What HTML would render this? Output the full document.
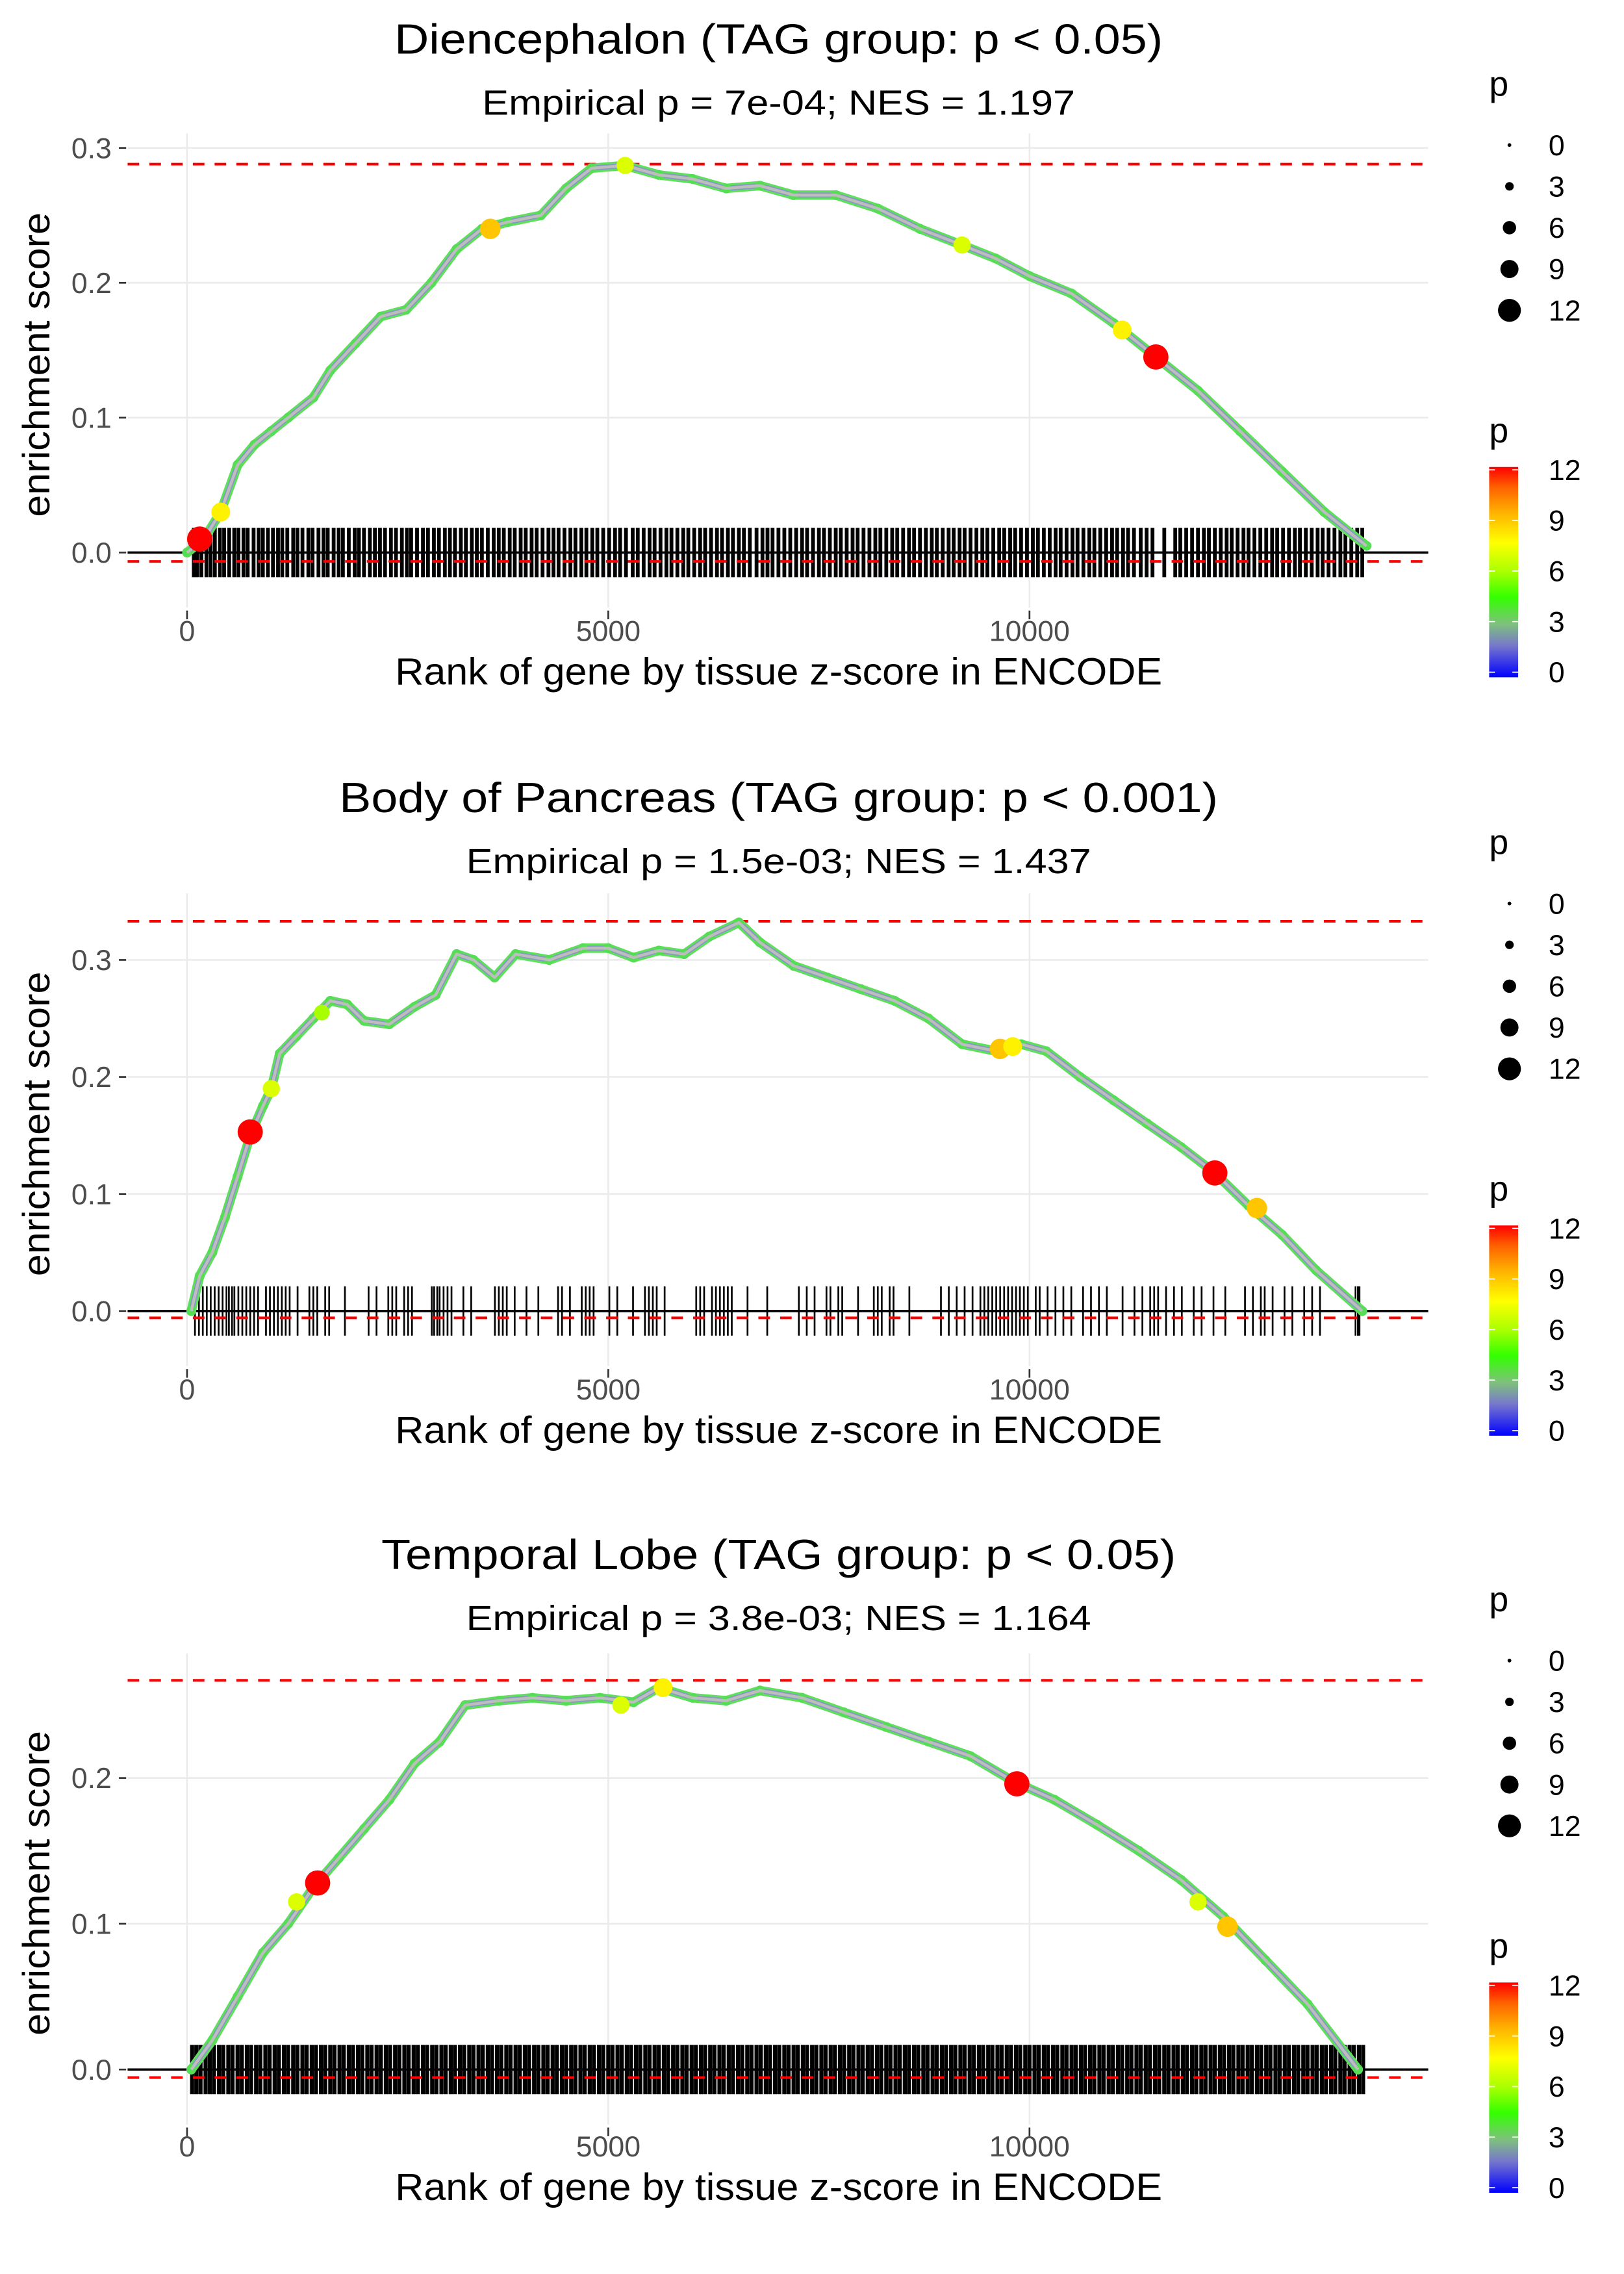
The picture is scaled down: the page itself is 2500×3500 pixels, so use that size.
<!DOCTYPE html>
<html><head><meta charset="utf-8"><title>Enrichment plots</title>
<style>html,body{margin:0;padding:0;background:#fff}svg{display:block}text{font-family:"Liberation Sans",Arial,sans-serif}</style>
</head><body>
<svg id="chart" width="2500" height="3500" viewBox="0 0 1120 1568" preserveAspectRatio="none" xmlns="http://www.w3.org/2000/svg">
<defs>
<linearGradient id="pgrad" x1="0" y1="1" x2="0" y2="0">
<stop offset="0" stop-color="#0000ff"/><stop offset="0.15" stop-color="#7777cc"/><stop offset="0.25" stop-color="#7fbf7f"/><stop offset="0.38" stop-color="#33ff00"/><stop offset="0.5" stop-color="#a8ff00"/><stop offset="0.64" stop-color="#ffff00"/><stop offset="0.78" stop-color="#ffb400"/><stop offset="0.9" stop-color="#ff6400"/><stop offset="1" stop-color="#ff0000"/>
</linearGradient>
</defs>
</svg>
<script>
// ---- data ----
const panelTitles = ["Diencephalon (TAG group: p < 0.05)","Body of Pancreas (TAG group: p < 0.001)","Temporal Lobe (TAG group: p < 0.05)"];
const panelSubtitles = ["Empirical p = 7e-04; NES = 1.197","Empirical p = 1.5e-03; NES = 1.437","Empirical p = 3.8e-03; NES = 1.164"];
const xTicks = [0,5000,10000];
const xTickLabels = ["0","5000","10000"];
const yTicks1 = [0,0.1,0.2,0.3];
const yTicks2 = [0,0.1,0.2,0.3];
const yTicks3 = [0,0.1,0.2];
const maxES = [0.288,0.333,0.267];
const minES = [-0.005,-0.004,-0.004];
const rank1 = [0,200,400,600,800,1000,1200,1500,1700,2000,2300,2600,2900,3200,3500,3800,4200,4500,4800,5200,5600,6000,6400,6800,7200,7700,8200,8700,9200,9600,10000,10500,11000,11500,12000,12500,13000,13500,14000];
const es1 = [0,0.01,0.03,0.065,0.08,0.09,0.1,0.115,0.135,0.155,0.175,0.18,0.2,0.225,0.24,0.245,0.25,0.27,0.285,0.287,0.28,0.277,0.27,0.272,0.265,0.265,0.255,0.24,0.228,0.218,0.205,0.192,0.17,0.145,0.12,0.09,0.06,0.03,0.005];
const rank2 = [50,150,300,450,600,750,900,1000,1100,1300,1500,1700,1900,2100,2400,2700,2950,3200,3400,3650,3900,4300,4700,5000,5300,5600,5900,6200,6550,6800,7200,7600,8000,8400,8800,9200,9600,9900,10200,10600,11000,11400,11800,12200,12600,13000,13400,13950];
const es2 = [0,0.03,0.05,0.08,0.115,0.15,0.175,0.19,0.22,0.235,0.25,0.265,0.262,0.248,0.245,0.26,0.27,0.305,0.3,0.285,0.305,0.3,0.31,0.31,0.302,0.308,0.305,0.32,0.332,0.315,0.295,0.285,0.275,0.265,0.25,0.228,0.222,0.228,0.222,0.2,0.18,0.16,0.14,0.118,0.09,0.065,0.035,0.0];
const rank3 = [50,300,600,900,1200,1500,1800,2100,2400,2700,3000,3300,3700,4100,4500,4900,5300,5600,6000,6400,6800,7300,7800,8300,8800,9300,9800,10300,10800,11300,11800,12300,12800,13300,13900];
const es3 = [0,0.02,0.05,0.08,0.1,0.125,0.145,0.165,0.185,0.21,0.225,0.25,0.253,0.255,0.253,0.255,0.252,0.262,0.255,0.253,0.26,0.255,0.245,0.235,0.225,0.215,0.198,0.185,0.168,0.15,0.13,0.105,0.075,0.045,0.0];
const hiRank1 = [150,400,3600,5200,9200,11100,11500];
const hiES1 = [0.01,0.03,0.24,0.287,0.228,0.165,0.145];
const hiP1 = [12,8,9,7,7,8,12];
const hiRank2 = [750,1000,1600,9650,9800,12200,12700];
const hiES2 = [0.153,0.19,0.255,0.224,0.226,0.118,0.088];
const hiP2 = [12,7,6,9,8,12,9];
const hiRank3 = [1300,1550,5150,5650,9850,12000,12350];
const hiES3 = [0.115,0.128,0.25,0.262,0.196,0.115,0.098];
const hiP3 = [7,12,7,8,12,7,9];
const hits1 = [80,120,170,230,280,330,390,440,500,560,610,670,720,790,850,900,960,1020,1080,1130,1190,1260,1310,1370,1440,1490,1560,1620,1670,1740,1800,1850,1920,1990,2040,2100,2170,2230,2290,2350,2420,2480,2550,2610,2660,2730,2800,2860,2930,2990,3060,3120,3180,3250,3310,3380,3440,3500,3570,3640,3700,3760,3830,3890,3960,4020,4090,4150,4220,4290,4350,4410,4480,4550,4610,4680,4740,4810,4870,4940,5010,5080,5140,5210,5290,5350,5420,5490,5550,5620,5690,5750,5820,5890,5950,6020,6090,6150,6220,6290,6350,6420,6480,6550,6610,6680,6760,6830,6890,6950,7020,7090,7160,7230,7300,7360,7430,7500,7560,7630,7700,7760,7830,7900,7960,8030,8100,8170,8230,8300,8370,8430,8500,8570,8630,8700,8770,8840,8900,8970,9040,9100,9170,9230,9300,9370,9440,9500,9570,9640,9700,9770,9830,9900,9970,10040,10100,10170,10240,10310,10370,10440,10510,10570,10640,10710,10770,10840,10910,10980,11040,11110,11170,11240,11320,11390,11460,11600,11730,11790,11860,11930,12000,12070,12130,12200,12270,12340,12400,12470,12540,12600,12670,12740,12810,12880,12940,13010,13080,13150,13210,13280,13350,13420,13480,13550,13620,13690,13750,13820,13890,13950];
const hits2 = [94,141,187,234,281,328,375,422,468,497,534,562,609,656,703,750,796,843,937,984,1031,1078,1125,1171,1218,1312,1452,1499,1546,1640,1687,1874,2155,2249,2389,2436,2483,2577,2624,2670,2905,2933,2970,2998,3045,3092,3139,3280,3373,3654,3701,3748,3795,3889,4029,4170,4404,4451,4545,4685,4732,4779,4826,5013,5107,5294,5435,5482,5529,5575,5669,6044,6091,6138,6231,6278,6325,6372,6419,6466,6653,6887,7262,7356,7449,7590,7637,7731,7777,7965,8152,8199,8246,8340,8386,8574,8949,9042,9136,9230,9324,9417,9464,9511,9558,9605,9652,9699,9746,9793,9840,9886,9933,9980,10074,10121,10215,10308,10402,10496,10636,10730,10824,10918,11105,11246,11340,11433,11480,11527,11621,11715,11808,11949,12043,12184,12324,12558,12652,12746,12792,12886,13027,13120,13261,13355,13448,13870,13898,13917];
const hits3 = [60,110,160,220,270,320,380,430,490,540,600,650,710,760,820,870,930,980,1040,1090,1150,1200,1260,1310,1370,1420,1480,1530,1590,1640,1700,1750,1810,1860,1920,1970,2030,2080,2140,2190,2250,2300,2360,2410,2470,2520,2580,2630,2690,2740,2800,2850,2910,2960,3020,3070,3130,3180,3240,3290,3350,3400,3460,3510,3570,3620,3680,3730,3790,3840,3900,3950,4010,4060,4120,4170,4230,4280,4340,4390,4450,4500,4560,4610,4670,4720,4780,4830,4890,4940,5000,5050,5110,5160,5220,5270,5330,5380,5440,5490,5550,5600,5660,5710,5770,5820,5880,5930,5990,6040,6100,6150,6210,6260,6320,6370,6430,6480,6540,6590,6650,6700,6760,6810,6870,6920,6980,7030,7090,7140,7200,7250,7310,7360,7420,7470,7530,7580,7640,7690,7750,7800,7860,7910,7970,8020,8080,8130,8190,8240,8300,8350,8410,8460,8520,8570,8630,8680,8740,8790,8850,8900,8960,9010,9070,9120,9180,9230,9290,9340,9400,9450,9510,9560,9620,9670,9730,9780,9840,9890,9950,10000,10060,10110,10170,10220,10280,10330,10390,10440,10500,10550,10610,10660,10720,10770,10830,10880,10940,10990,11050,11100,11160,11210,11270,11320,11380,11430,11490,11540,11600,11650,11710,11760,11820,11870,11930,11980,12040,12090,12150,12200,12260,12310,12370,12420,12480,12530,12590,12640,12700,12750,12810,12860,12920,12970,13030,13080,13140,13190,13250,13300,13360,13410,13470,13520,13580,13630,13690,13740,13800,13850,13910,13960];
const sizeLegendValues = [0,3,6,9,12];
const colorLegendValues = [12,9,6,3,0];

// ---- layout ----
const NS = "http://www.w3.org/2000/svg";
const svg = document.getElementById('chart');
const X0 = 129, XK = 0.0581;
const PLOT_L = 88, PLOT_R = 985;
const panels = [
 {off:0, y0:381, ppu:930, yTicks:yTicks1, rank:rank1, es:es1, hR:hiRank1, hE:hiES1, hP:hiP1, hits:hits1, tickW:2.6, top:92},
 {off:523, y0:904, ppu:807, yTicks:yTicks2, rank:rank2, es:es2, hR:hiRank2, hE:hiES2, hP:hiP2, hits:hits2, tickW:1.2, top:616},
 {off:1045, y0:1427, ppu:1005, yTicks:yTicks3, rank:rank3, es:es3, hR:hiRank3, hE:hiES3, hP:hiP3, hits:hits3, tickW:2.8, top:1140}
];
function xs(v){return X0 + v*XK;}
function mk(tag, attrs, parent){const e=document.createElementNS(NS,tag);for(const k in attrs)e.setAttribute(k,attrs[k]);(parent||svg).appendChild(e);return e;}
const stops=[[0,[0,0,255]],[1.8,[119,119,204]],[3,[127,191,127]],[4.5,[51,255,0]],[6,[168,255,0]],[7.7,[255,255,0]],[9.4,[255,180,0]],[10.8,[255,100,0]],[12,[255,0,0]]];
function pColor(p){for(let i=1;i<stops.length;i++){if(p<=stops[i][0]){const a=stops[i-1],b=stops[i];const t=(p-a[0])/(b[0]-a[0]);const c=a[1].map((v,j)=>Math.round(v+(b[1][j]-v)*t));return 'rgb('+c.join(',')+')';}}return 'rgb(255,0,0)';}
function pRadius(p){return 1.3+p*0.55;}
function txt(s, attrs, name){const t=mk('text',attrs);t.textContent=s;
 
 
 return t;}

panels.forEach((P, i) => {
 const g = mk('g', {});
 
 
 const ys = v => P.y0 - v*P.ppu;
 const bottom = P.y0 + 30;
 P.yTicks.forEach(t => {
  const l = mk('line',{x1:PLOT_L,x2:PLOT_R,y1:ys(t),y2:ys(t),stroke:'#ebebeb','stroke-width':1.2},g);
  
  
  const tk = mk('line',{x1:PLOT_L-6,x2:PLOT_L-1,y1:ys(t),y2:ys(t),stroke:'#333','stroke-width':1.2},g);
  
  
  g.appendChild(txt(t.toFixed(1),{x:PLOT_L-11,y:ys(t)+7,'font-size':20,fill:'#4d4d4d','text-anchor':'end'},'y-tick-label'));
 });
 xTicks.forEach((t,k) => {
  const l = mk('line',{x1:xs(t),x2:xs(t),y1:P.top,y2:bottom+8,stroke:'#ebebeb','stroke-width':1.2},g);
  
  
  const tk = mk('line',{x1:xs(t),x2:xs(t),y1:bottom+10,y2:bottom+16,stroke:'#333','stroke-width':1.2},g);
  
  
  g.appendChild(txt(xTickLabels[k],{x:xs(t),y:P.off+442,'font-size':20,fill:'#4d4d4d','text-anchor':'middle'},'x-tick-label'));
 });
 P.hits.forEach(r => {
  const h = mk('line',{x1:xs(r),x2:xs(r),y1:P.y0-17,y2:P.y0+17,stroke:'#000','stroke-width':P.tickW},g);
  
  
 });
 const dTop = mk('line',{x1:PLOT_L,x2:PLOT_R,y1:ys(maxES[i]),y2:ys(maxES[i]),stroke:'#ff0000','stroke-width':1.8,'stroke-dasharray':'8,7'},g);
 
 
 const dBot = mk('line',{x1:PLOT_L,x2:PLOT_R,y1:ys(minES[i])+1.5,y2:ys(minES[i])+1.5,stroke:'#ff0000','stroke-width':1.8,'stroke-dasharray':'8,7'},g);
 
 
 const zero = mk('line',{x1:PLOT_L,x2:PLOT_R,y1:ys(0),y2:ys(0),stroke:'#000','stroke-width':1.6},g);
 
 
 const pts = P.rank.map((r,k)=>xs(r).toFixed(1)+','+ys(P.es[k]).toFixed(1)).join(' ');
 const halo = mk('polyline',{points:pts,fill:'none',stroke:'#5fe05a','stroke-width':6.5,'stroke-linejoin':'round'},g);
 
 
 const mid = mk('polyline',{points:pts,fill:'none',stroke:'#8a96c8','stroke-width':3.6,'stroke-linejoin':'round'},g);
 
 
 P.rank.forEach((r,k)=>{
  const c = mk('circle',{cx:xs(r),cy:ys(P.es[k]),r:3.4,fill:'#55dd55'},g);
  
  
 });
 const line = mk('polyline',{points:pts,fill:'none',stroke:'#bdbdbd','stroke-width':2,'stroke-linejoin':'round'},g);
 
 
 P.hR.forEach((r,k)=>{
  const c = mk('circle',{cx:xs(r),cy:ys(P.hE[k]),r:pRadius(P.hP[k])+0.8,fill:pColor(P.hP[k])},g);
  
  
 });
 const titleLen = [530,606,548][i];
 const subLen = [409,431,431][i];
 g.appendChild(txt(panelTitles[i],{x:537,y:P.off+37,'font-size':29,fill:'#000','text-anchor':'middle',textLength:titleLen,lengthAdjust:'spacingAndGlyphs'},'panel-title'));
 g.appendChild(txt(panelSubtitles[i],{x:537,y:P.off+79,'font-size':24,fill:'#000','text-anchor':'middle',textLength:subLen,lengthAdjust:'spacingAndGlyphs'},'panel-subtitle'));
 g.appendChild(txt('Rank of gene by tissue z-score in ENCODE',{x:537,y:P.off+472,'font-size':26,fill:'#000','text-anchor':'middle',textLength:529,lengthAdjust:'spacingAndGlyphs'},'x-axis-title'));
 const yc = (P.top + bottom)/2;
 g.appendChild(txt('enrichment score',{x:0,y:0,'font-size':26,fill:'#000','text-anchor':'middle',textLength:210,lengthAdjust:'spacingAndGlyphs',transform:'translate(34,'+yc+') rotate(-90)'},'y-axis-title'));
 const lg = mk('g',{},g);
 
 
 lg.appendChild(txt('p',{x:1027,y:P.off+66,'font-size':24,fill:'#000'},'size-legend-title'));
 sizeLegendValues.forEach((v,k)=>{
  const yy = P.off + 100 + k*28.5;
  const c = mk('circle',{cx:1041,cy:yy,r:pRadius(v)},lg);
  
  
  lg.appendChild(txt(String(v),{x:1068,y:yy+7,'font-size':20,fill:'#000'},'size-legend-label'));
 });
 const cg = mk('g',{},g);
 
 
 cg.appendChild(txt('p',{x:1027,y:P.off+305,'font-size':24,fill:'#000'},'color-legend-title'));
 const bar = mk('rect',{x:1027,y:P.off+322,width:20,height:145,fill:'url(#pgrad)'},cg);
 
 
 colorLegendValues.forEach(v=>{
  const yy = P.off + 466 - v/12*139.5 - 2.5;
  const t1 = mk('line',{x1:1027,x2:1031,y1:yy,y2:yy,stroke:'#fff','stroke-width':0.8},cg);
  
  
  const t2 = mk('line',{x1:1043,x2:1047,y1:yy,y2:yy,stroke:'#fff','stroke-width':0.8},cg);
  
  
  cg.appendChild(txt(String(v),{x:1068,y:yy+7,'font-size':20,fill:'#000'},'colorbar-label'));
 });
});
</script>
</body></html>
